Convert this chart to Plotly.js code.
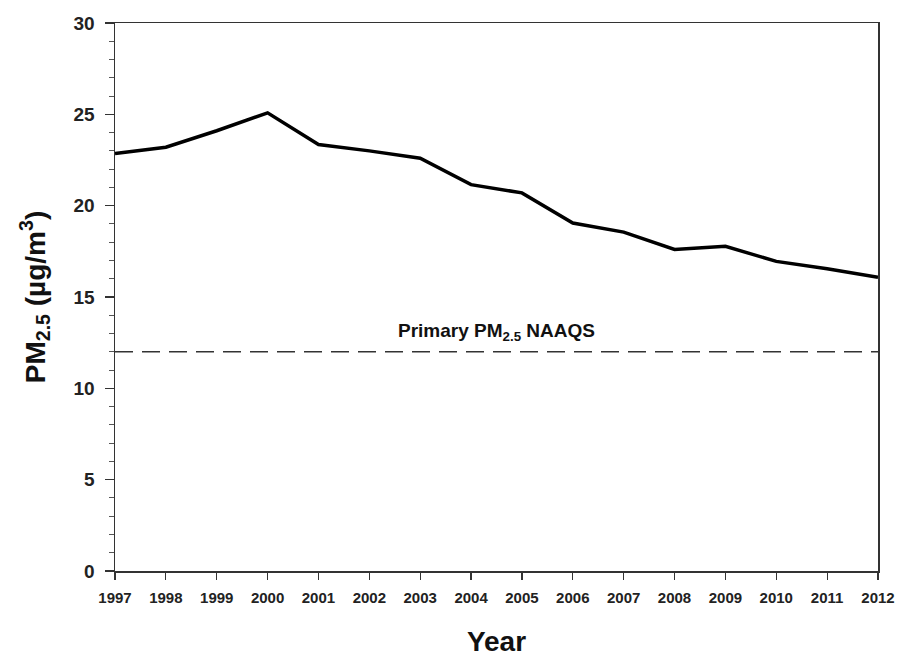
<!DOCTYPE html>
<html>
<head>
<meta charset="utf-8">
<script src="https://cdn.plot.ly/plotly-3.0.1.min.js"></script>
<style>html,body{margin:0;padding:0;background:#fff;}#chart{width:900px;height:657px;}</style>
</head>
<body>
<div id="chart"></div>
<script>
const years = [1997,1998,1999,2000,2001,2002,2003,2004,2005,2006,2007,2008,2009,2010,2011,2012];
const pm25 = [22.85,23.2,24.1,25.08,23.35,23.0,22.6,21.15,20.7,19.05,18.55,17.6,17.78,16.95,16.55,16.08];
const naaqsYears = [1997, 2012];
const naaqsValue = [12, 12];
const naaqsLabel = "Primary PM<sub>2.5</sub> NAAQS";
const xTickVals = years;
const yTickVals = [0,5,10,15,20,25,30];

const font = "Liberation Sans, Arial, sans-serif";

const traces = [
  {x: years, y: pm25, type: 'scatter', mode: 'lines',
   line: {color: '#000', width: 3.5}, hoverinfo: 'skip'},
  {x: naaqsYears, y: naaqsValue, type: 'scatter', mode: 'lines',
   line: {color: '#333', width: 1.6, dash: '18px,9px'}, hoverinfo: 'skip'}
];

const layout = {
  width: 900, height: 657,
  margin: {l: 115, r: 22, t: 23, b: 86},
  paper_bgcolor: '#fff', plot_bgcolor: '#fff',
  showlegend: false,
  font: {family: font, color: '#111'},
  xaxis: {
    range: [1997, 2012], tickvals: xTickVals, ticktext: xTickVals.map(String),
    showgrid: false, zeroline: false,
    showline: true, linecolor: '#333', linewidth: 1.5, mirror: true,
    ticks: 'outside', ticklen: 7, tickwidth: 1.2, tickcolor: '#333',
    tickfont: {family: font, size: 15, color: '#222', weight: 'bold'},
    ticklabelstandoff: 5,
    title: {text: '<b>Year</b>', font: {family: font, size: 28, color: '#111'}, standoff: 28}
  },
  yaxis: {
    range: [0, 30], tickvals: yTickVals,
    showgrid: false, zeroline: false,
    showline: true, linecolor: '#333', linewidth: 1.5, mirror: true,
    ticks: 'outside', ticklen: 9, tickwidth: 1.2, tickcolor: '#333',
    tickfont: {family: font, size: 19, color: '#222', weight: 'bold'},
    ticklabelstandoff: 6,
    minor: {dtick: 1, ticks: 'outside', ticklen: 5, tickwidth: 1, tickcolor: '#555'},
    title: {text: '<b>PM<sub>2.5</sub> (µg/m<sup>3</sup>)</b>', font: {family: font, size: 28, color: '#111'}, standoff: 20}
  },
  annotations: [{
    x: 2004.5, y: 12, xref: 'x', yref: 'y', yanchor: 'bottom', yshift: 6,
    text: '<b>' + naaqsLabel + '</b>', showarrow: false,
    font: {family: font, size: 19, color: '#111'}
  }]
};

Plotly.newPlot('chart', traces, layout, {staticPlot: true, displayModeBar: false});
</script>
</body>
</html>
